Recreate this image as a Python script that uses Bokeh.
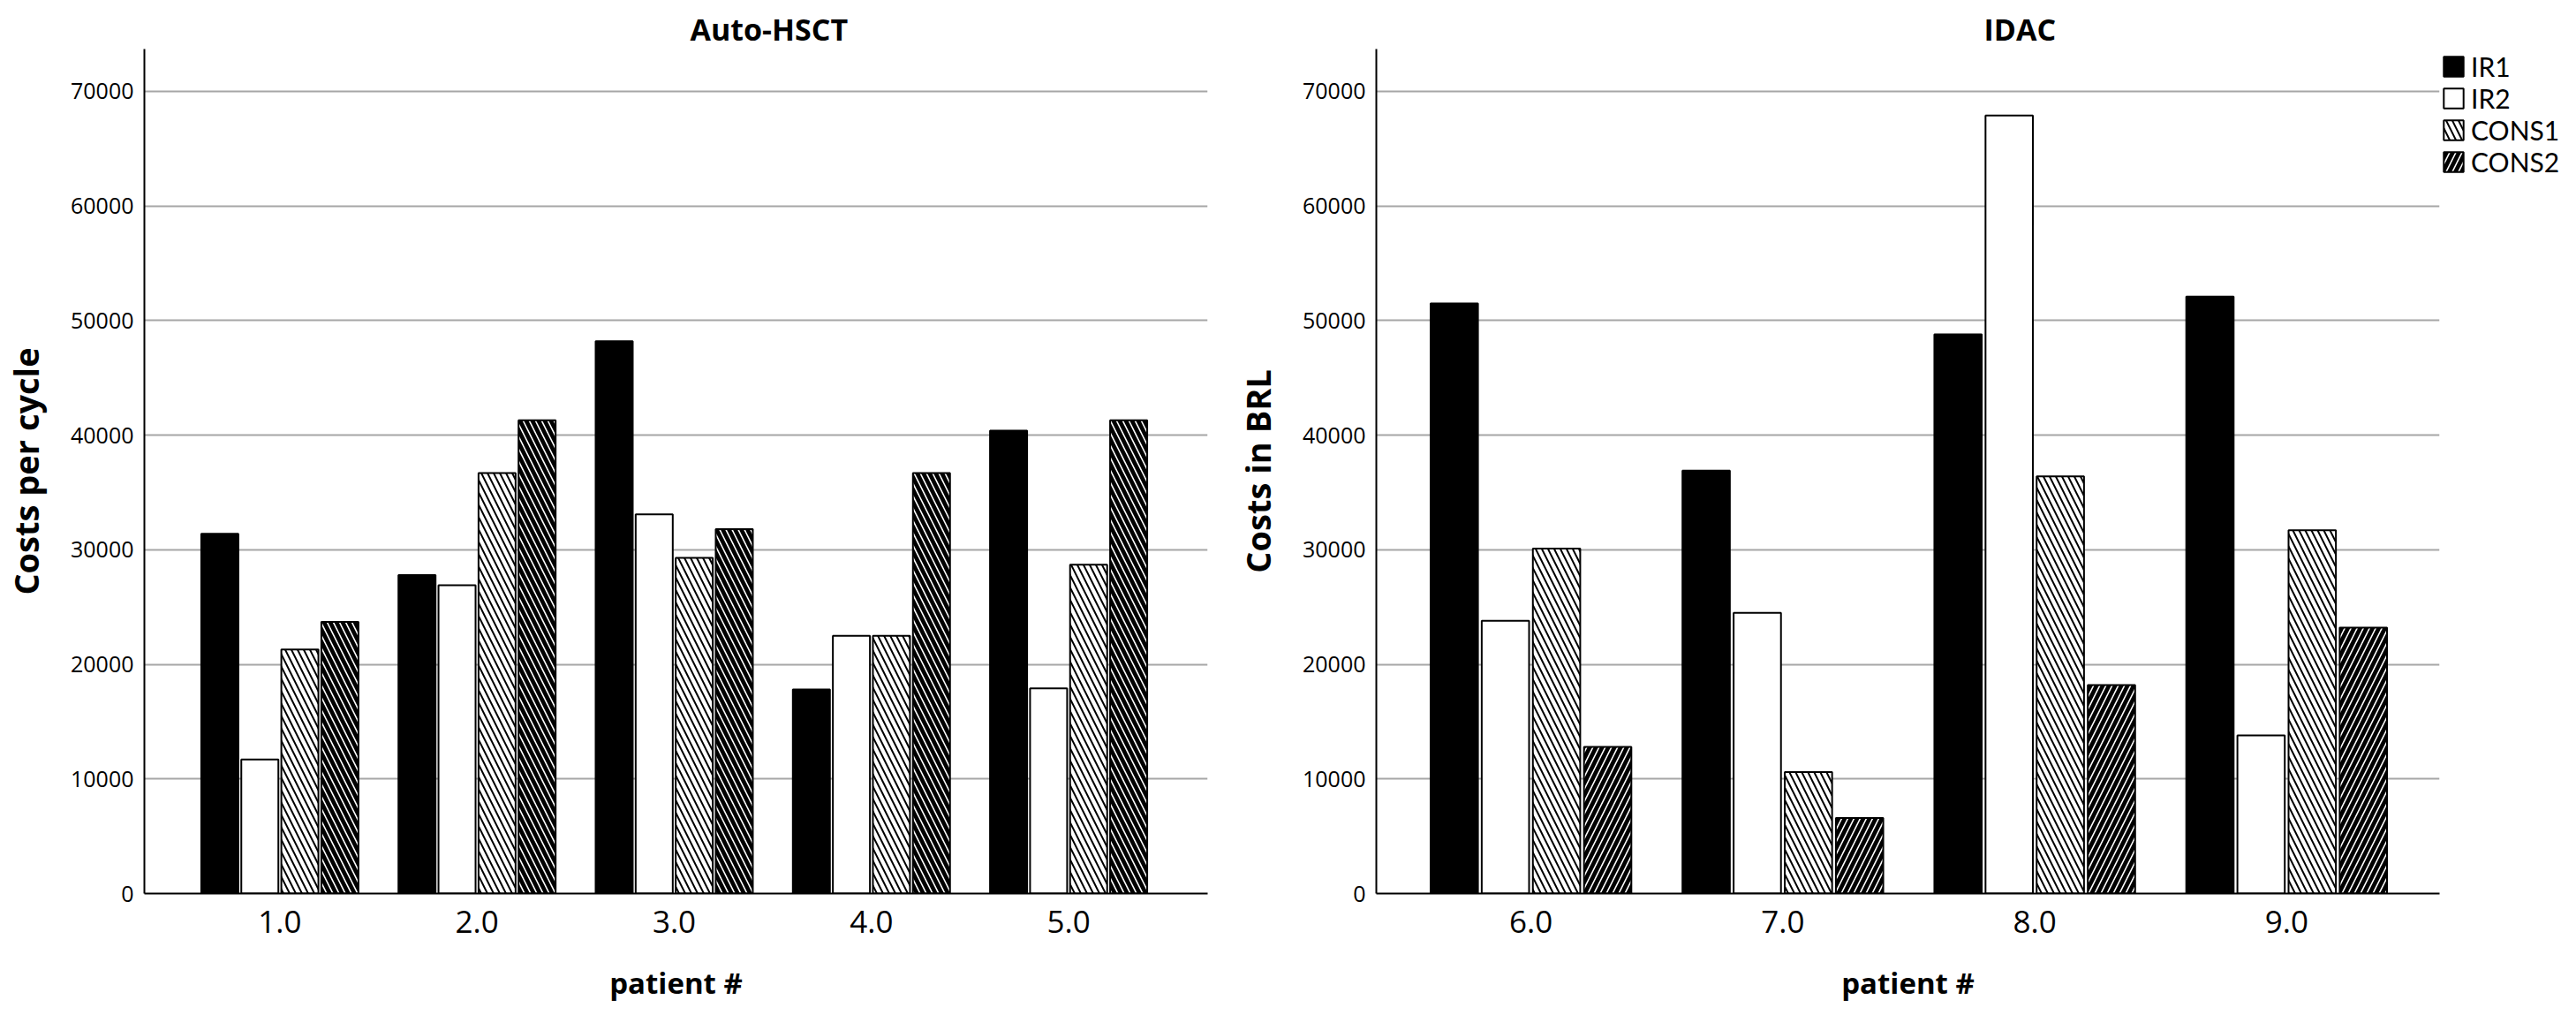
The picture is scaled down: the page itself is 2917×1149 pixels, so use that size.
from bokeh.plotting import figure
from bokeh.models import (Range1d, FixedTicker, PrintfTickFormatter, NumeralTickFormatter,
                          Legend, LegendItem, ColumnDataSource)
from bokeh.layouts import row
from bokeh.embed import file_html
from bokeh.resources import INLINE

# ---------------- data ----------------
series = ["IR1", "IR2", "CONS1", "CONS2"]

patients_a = [1.0, 2.0, 3.0, 4.0, 5.0]
ir1_a = [31400, 27800, 48200, 17800, 40400]
ir2_a = [11700, 26900, 33100, 22500, 17900]
cons1_a = [21300, 36700, 29300, 22500, 28700]
cons2_a = [23700, 41300, 31800, 36700, 41300]

patients_b = [6.0, 7.0, 8.0, 9.0]
ir1_b = [51500, 36900, 48800, 52100]
ir2_b = [23800, 24500, 67900, 13800]
cons1_b = [30100, 10600, 36400, 31700]
cons2_b = [12800, 6600, 18200, 23200]

y_ticks = [0, 10000, 20000, 30000, 40000, 50000, 60000, 70000]

FONT = "Open Sans"
PITCH = 0.203
BAR_W = 0.188
OFFSETS = [-1.5 * PITCH, -0.5 * PITCH, 0.5 * PITCH, 1.5 * PITCH]


def make_panel(title, ylabel, patients, values, xr, cons2_hatch, border_left, border_right,
               title_offset):
    p = figure(output_backend="svg", toolbar_location=None,
               frame_width=1204, frame_height=956,
               x_range=Range1d(*xr), y_range=Range1d(0, 73700),
               min_border_left=border_left, min_border_right=border_right,
               min_border_top=55, min_border_bottom=4,
               background_fill_color="white", border_fill_color="white")
    p.outline_line_color = None
    p.title.text = title
    p.title.text_font = FONT
    p.title.text_font_style = "bold"
    p.title.text_font_size = "34px"
    p.title.align = "left"
    p.title.offset = title_offset
    p.title.standoff = 0
    p.title.text_color = "black"

    styles = [
        dict(fill_color="black", hatch_pattern=None),
        dict(fill_color="white", hatch_pattern=None),
        dict(fill_color="white", hatch_pattern="\\", hatch_color="black",
             hatch_weight=2.0, hatch_scale=14),
        dict(fill_color="black", hatch_pattern=cons2_hatch, hatch_color="white",
             hatch_weight=1.6, hatch_scale=14),
    ]
    renderers = []
    for name, vals, off, st in zip(series, values, OFFSETS, styles):
        src = ColumnDataSource(dict(x=[v + off for v in patients], top=vals))
        kw = dict(x="x", top="top", width=BAR_W, bottom=0, source=src,
                  line_color="black", line_width=2, fill_color=st["fill_color"])
        if st["hatch_pattern"]:
            kw.update(hatch_pattern=st["hatch_pattern"], hatch_color=st["hatch_color"],
                      hatch_weight=st["hatch_weight"], hatch_scale=st["hatch_scale"])
        r = p.vbar(**kw)
        renderers.append(r)

    p.xgrid.visible = False
    p.ygrid.ticker = FixedTicker(ticks=y_ticks)
    p.ygrid.grid_line_color = "#a6a6a6"
    p.ygrid.grid_line_width = 2

    p.xaxis.ticker = FixedTicker(ticks=patients)
    p.xaxis.formatter = PrintfTickFormatter(format="%.1f")
    p.yaxis.ticker = FixedTicker(ticks=y_ticks)
    p.yaxis.formatter = NumeralTickFormatter(format="0")
    for ax in (p.xaxis, p.yaxis):
        ax.axis_line_color = "black"
        ax.axis_line_width = 2
        ax.major_tick_in = 0
        ax.major_tick_out = 0
        ax.minor_tick_in = 0
        ax.minor_tick_out = 0
        ax.major_label_text_font = FONT
        ax.major_label_text_color = "black"
        ax.axis_label_text_font = FONT
        ax.axis_label_text_font_style = "bold"
        ax.axis_label_text_color = "black"
    p.xaxis.axis_label = "patient #"
    p.xaxis.major_label_text_font_size = "35px"
    p.xaxis.major_label_standoff = 19
    p.xaxis.axis_label_text_font_size = "33px"
    p.xaxis.axis_label_standoff = 31
    p.yaxis.axis_label = ylabel
    p.yaxis.major_label_text_font_size = "25px"
    p.yaxis.major_label_standoff = 12
    p.yaxis.axis_label_text_font_size = "38px"
    p.yaxis.axis_label_standoff = 22
    return p, renderers


p1, r1 = make_panel("Auto-HSCT", "Costs per cycle", patients_a,
                    [ir1_a, ir2_a, cons1_a, cons2_a], (0.313, 5.705), "\\", 153, 22, 618)
p2, r2 = make_panel("IDAC", "Costs in BRL", patients_b,
                    [ir1_b, ir2_b, cons1_b, cons2_b], (5.386, 9.607), "/", 169, 0, 688)

legend = Legend(items=[LegendItem(label=s, renderers=[r]) for s, r in zip(series, r2)],
                location="top_left", margin=2, padding=0, spacing=0,
                glyph_width=28, glyph_height=28, label_standoff=6, label_height=28,
                label_text_font="Lato", label_text_font_size="30px",
                label_text_color="black", border_line_color=None,
                background_fill_alpha=0)
p2.add_layout(legend, "right")

layout = row(p1, p2)
open("out.html", "w").write(file_html(layout, INLINE))
